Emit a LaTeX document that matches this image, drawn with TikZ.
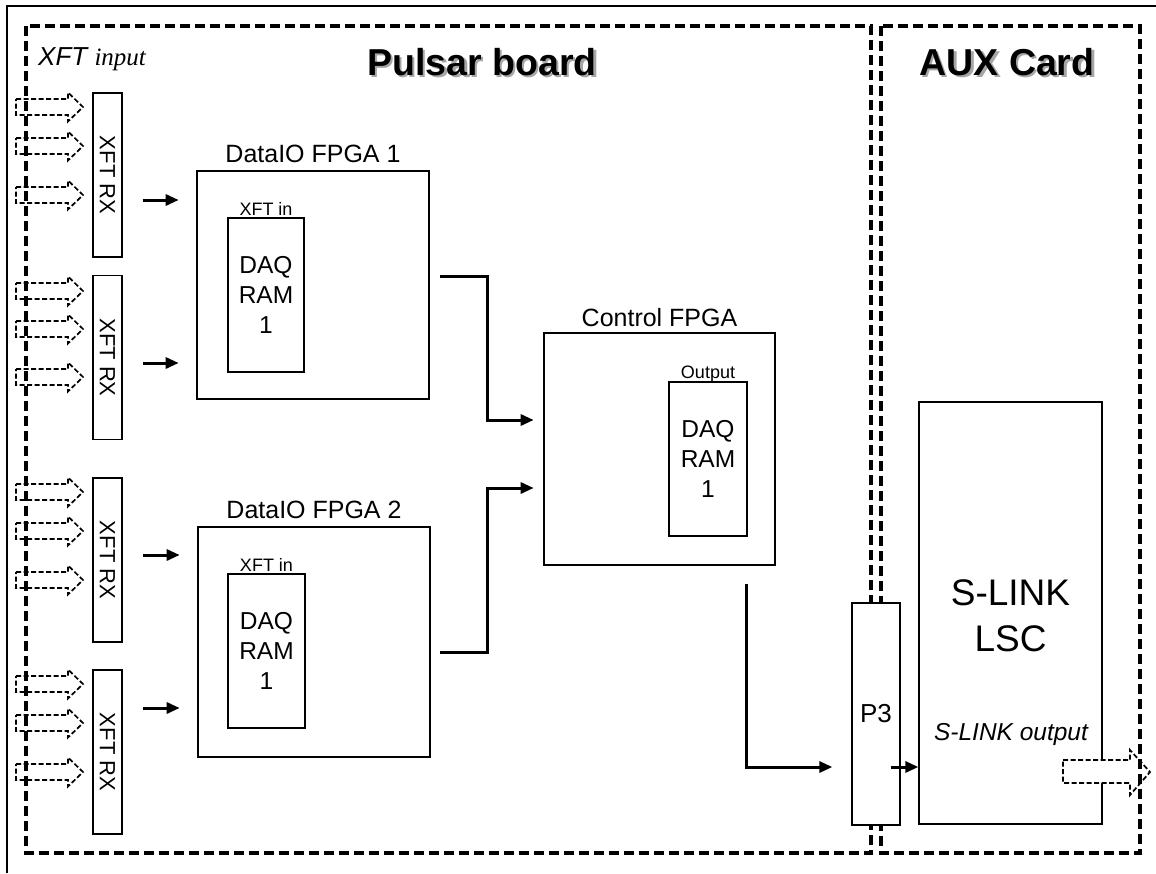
\documentclass[tikz,border=0pt]{standalone}
\usepackage{fontspec}
\usepackage{graphicx}
\setmainfont{Liberation Sans}
\newfontfamily\timesfont{Liberation Serif}
\usetikzlibrary{arrows.meta}
\newcommand\shadowtext[1]{\makebox[0pt][l]{\hspace{2.5pt}\raisebox{-2.5pt}{\textcolor{black!35}{#1}}}#1}
\tikzset{
  bigbox/.style={draw, line width=2.6pt, fill=white, inner sep=0pt},
  smallbox/.style={draw, line width=1.3pt, fill=white, inner sep=0pt},
  lbl/.style={anchor=base, inner sep=0pt},
  border/.style={line width=3.2pt, dash pattern=on 10pt off 5pt},
  hollow/.style={draw, line width=1.7pt, dash pattern=on 5pt off 2.5pt, fill=white},
  conn/.style={line width=3pt, -{Triangle[length=13pt,width=11pt]}},
  lab/.style={font=\fontsize{25}{30}\selectfont},
  tiny/.style={font=\fontsize{18}{20}\selectfont},
  daq/.style={font=\fontsize{24.5}{30}\selectfont, align=center},
  rxfont/.style={font=\fontsize{22}{24}\selectfont},
  title/.style={font=\fontsize{37.5}{40}\selectfont\bfseries}
}
\begin{document}
\begin{tikzpicture}[x=1pt,y=-1pt]
\useasboundingbox (0,0) rectangle (1156,873);
% outer frame
\draw[line width=2.8pt] (7,873) -- (7,6) -- (1156,6);

% input dashed arrows
\foreach \yy in {107,146,195,291,329,377,492,531,580,684,723,772} {
  \draw[hollow] (16,{\yy-8}) -- (68,{\yy-8}) -- (68,{\yy-14.5}) -- (83,\yy)
    -- (68,{\yy+14.5}) -- (68,{\yy+8}) -- (16,{\yy+8}) -- cycle;
}

% XFT RX boxes
\node[smallbox, rxfont, minimum width=29pt, minimum height=164pt] (rx1) at (107.5,175) {\rotatebox{-90}{XFT RX}};
\node[smallbox, rxfont, minimum width=29pt, minimum height=164pt] (rx2) at (107.5,357.5) {\rotatebox{-90}{XFT RX}};
\node[smallbox, rxfont, minimum width=29pt, minimum height=164pt] (rx3) at (107.5,560) {\rotatebox{-90}{XFT RX}};
\node[smallbox, rxfont, minimum width=29pt, minimum height=164pt] (rx4) at (107.5,752) {\rotatebox{-90}{XFT RX}};

% DataIO FPGAs
\node[bigbox, minimum width=232pt, minimum height=228pt] (d1) at (313,285) {};
\node[lbl, lab] at (d1.north |- 0,162) {DataIO FPGA 1};
\node[smallbox, daq, minimum width=76pt, minimum height=154pt] (r1) at (266,295) {DAQ\\RAM\\1};
\node[lbl, tiny] at (r1.north |- 0,215) {XFT in};

\node[bigbox, minimum width=232pt, minimum height=230pt] (d2) at (314,642) {};
\node[lbl, lab] at (d2.north |- 0,518) {DataIO FPGA 2};
\node[smallbox, daq, minimum width=77pt, minimum height=154pt] (r2) at (266.5,651) {DAQ\\RAM\\1};
\node[lbl, tiny] at (r2.north |- 0,571) {XFT in};

% Control FPGA
\node[bigbox, minimum width=231pt, minimum height=232pt] (c) at (659.5,449) {};
\node[lbl, lab] at (c.north |- 0,326) {Control FPGA};
\node[smallbox, daq, minimum width=78pt, minimum height=154pt] (r3) at (708,459) {DAQ\\RAM\\1};
\node[lbl, tiny] at (r3.north |- 0,378) {Output};

% S-LINK LSC
\node[smallbox, minimum width=183pt, minimum height=422pt] (sl) at (1010.5,613) {};
\node[lbl, font=\fontsize{37}{46}\selectfont] at (1010.5,605) {S-LINK};
\node[lbl, font=\fontsize{37}{46}\selectfont] at (1010.5,651) {LSC};
\node[lbl, font=\fontsize{24.5}{28}\selectfont\itshape] at (1011,740) {S-LINK output};

% output dashed arrow
\draw[hollow] (1063,760) -- (1130,760) -- (1130,750) -- (1150,772) -- (1130,795)
  -- (1130,783) -- (1063,783) -- cycle;

% board borders
\draw[border] (26,26) rectangle (871,853);
\draw[border] (881,26) rectangle (1140,853);

% P3 connector
\node[smallbox, font=\fontsize{26}{30}\selectfont, minimum width=48pt, minimum height=222pt] (p3) at (876,714) {P3};

% titles
\node[lbl, title] (tp) at (482,75) {\shadowtext{Pulsar board}};
\node[lbl, title] (ta) at (1007,75) {\shadowtext{AUX Card}};
\node[anchor=base west, inner sep=0pt, font=\fontsize{26}{28}\selectfont\itshape] (xin) at (38,65) {XFT {\timesfont\fontsize{25}{28}\selectfont input}};

% connectors
\draw[conn, shorten <=20pt, shorten >=17pt] (rx1.east |- 0,200) -- (d1.west |- 0,200);
\draw[conn, shorten <=20pt, shorten >=17pt] (rx2.east |- 0,363) -- (d1.west |- 0,363);
\draw[conn, shorten <=20pt, shorten >=17pt] (rx3.east |- 0,555) -- (d2.west |- 0,555);
\draw[conn, shorten <=20pt, shorten >=17pt] (rx4.east |- 0,708) -- (d2.west |- 0,708);

\draw[conn, shorten >=9pt] (d1.east |- 0,276) ++(10,0) -| (487,420) -- (c.west |- 0,420);
\draw[conn, shorten >=9pt] (d2.east |- 0,652) ++(9,0) -| (487,488) -- (c.west |- 0,488);
\draw[conn, shorten >=19pt] (746,584) |- (p3.west |- 0,767);
\draw[conn] (p3.east |- 0,767) ++(-10,0) -- (sl.west |- 0,767);
\end{tikzpicture}
\end{document}
